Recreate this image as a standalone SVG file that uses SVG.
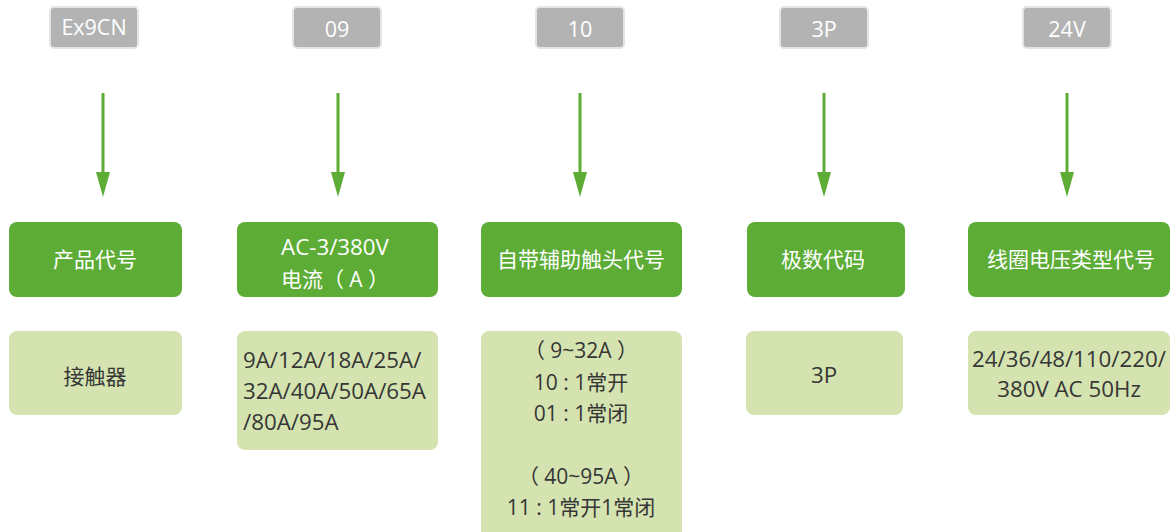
<svg xmlns="http://www.w3.org/2000/svg" width="1171" height="532" viewBox="0 0 1171 532">
<defs>
<style>
.tag{fill:#b3b3b3;stroke:#e4e4e4;stroke-width:2}
.tagt{fill:#ffffff;font-family:"Open Sans","Noto Sans CJK SC",sans-serif;font-size:21.5px;text-anchor:middle}
.hd{fill:#5cac36}
.hdt{fill:#ffffff;font-family:"Open Sans","Noto Sans CJK SC",sans-serif;font-size:21px;text-anchor:middle}
.bd{fill:#d4e3b0}
.bdt{fill:#363636;font-family:"Open Sans","Noto Sans CJK SC",sans-serif;font-size:21px;text-anchor:middle}
.lat{font-size:22.3px}
.ln{stroke:#5cac36;stroke-width:3;fill:none}
.ar{fill:#5cac36}
</style>
</defs>
<rect width="1171" height="532" fill="#ffffff"/>
<g id="connectors">
<line class="ln" x1="103" y1="93" x2="103" y2="172"/><path class="ar" d="M96,172 L110,172 L103,197 Z"/>
<line class="ln" x1="338" y1="93" x2="338" y2="172"/><path class="ar" d="M331,172 L345,172 L338,197 Z"/>
<line class="ln" x1="580" y1="93" x2="580" y2="172"/><path class="ar" d="M573,172 L587,172 L580,197 Z"/>
<line class="ln" x1="824" y1="93" x2="824" y2="172"/><path class="ar" d="M817,172 L831,172 L824,197 Z"/>
<line class="ln" x1="1067" y1="93" x2="1067" y2="172"/><path class="ar" d="M1060,172 L1074,172 L1067,197 Z"/>
</g>
<g id="tag1"><rect class="tag" x="50" y="7" width="88" height="41" rx="4"/><text class="tagt" x="94" y="35">Ex9CN</text></g>
<g id="tag2"><rect class="tag" x="293" y="7" width="88" height="41" rx="4"/><text class="tagt" x="337" y="37">09</text></g>
<g id="tag3"><rect class="tag" x="536" y="7" width="88" height="41" rx="4"/><text class="tagt" x="580" y="37">10</text></g>
<g id="tag4"><rect class="tag" x="780" y="7" width="88" height="41" rx="4"/><text class="tagt" x="824" y="37">3P</text></g>
<g id="tag5"><rect class="tag" x="1023" y="7" width="88" height="41" rx="4"/><text class="tagt" x="1067" y="37">24V</text></g>

<g id="head1"><rect class="hd" x="9" y="222" width="173" height="75" rx="8"/><text class="hdt" x="95" y="267">产品代号</text></g>
<g id="head2"><rect class="hd" x="237" y="222" width="201" height="75" rx="8"/><text class="hdt lat" x="335" y="255">AC-3/380V</text><text class="hdt" x="335" y="287">电流（ A ）</text></g>
<g id="head3"><rect class="hd" x="481" y="222" width="201" height="75" rx="8"/><text class="hdt" x="581" y="267">自带辅助触头代号</text></g>
<g id="head4"><rect class="hd" x="747" y="222" width="158" height="75" rx="8"/><text class="hdt" x="823" y="267">极数代码</text></g>
<g id="head5"><rect class="hd" x="968" y="222" width="202" height="75" rx="8"/><text class="hdt" x="1071" y="267">线圈电压类型代号</text></g>

<g id="body1"><rect class="bd" x="9" y="331" width="173" height="84" rx="8"/><text class="bdt" x="95" y="384">接触器</text></g>
<g id="body2"><rect class="bd" x="237" y="331" width="201" height="119" rx="8"/>
<text class="bdt lat" style="text-anchor:start" x="243" y="368">9A/12A/18A/25A/</text>
<text class="bdt lat" style="text-anchor:start" x="243" y="399">32A/40A/50A/65A</text>
<text class="bdt lat" style="text-anchor:start" x="243" y="430">/80A/95A</text></g>
<g id="body3"><rect class="bd" x="481" y="331" width="201" height="215" rx="8"/>
<text class="bdt" x="581" y="358">（ 9~32A ）</text>
<text class="bdt" x="581" y="390">10 : 1常开</text>
<text class="bdt" x="581" y="421">01 : 1常闭</text>
<text class="bdt" x="581" y="484">（ 40~95A ）</text>
<text class="bdt" x="581" y="515">11 : 1常开1常闭</text></g>
<g id="body4"><rect class="bd" x="746" y="331" width="157" height="84" rx="8"/><text class="bdt lat" x="824" y="383">3P</text></g>
<g id="body5"><rect class="bd" x="968" y="331" width="202" height="84" rx="8"/>
<text class="bdt lat" x="1069" y="367">24/36/48/110/220/</text>
<text class="bdt lat" x="1069" y="397">380V AC 50Hz</text></g>
</svg>
